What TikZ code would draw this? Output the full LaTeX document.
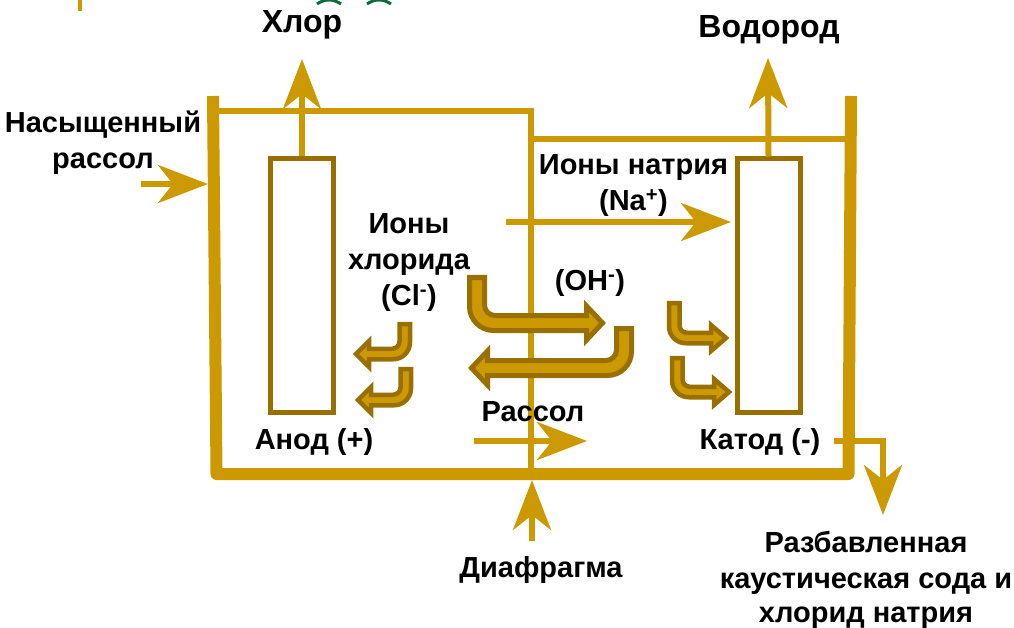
\documentclass[tikz,border=0pt]{standalone}
\usepackage{fontspec}
\setmainfont{Liberation Sans}
\usepackage{xcolor}
\usetikzlibrary{positioning, arrows.meta}
\definecolor{brinegold}{RGB}{204,153,0}
\definecolor{brinedark}{RGB}{153,112,0}
\definecolor{cutgreen}{RGB}{11,107,58}

\begin{document}
\begin{tikzpicture}[x=1pt, y=-1pt, every node/.style={inner sep=0pt},
  lbl/.style={font=\fontsize{29}{36}\selectfont\bfseries, align=center, text=black},
  gaslbl/.style={font=\fontsize{32}{38}\selectfont\bfseries, text=black},
  wall/.style={brinegold, line width=12pt, line join=round},
  lid/.style={brinegold, line width=6pt},
  electrode/.style={draw=brinedark, line width=5pt, minimum width=63pt, minimum height=253pt, fill=white},
  flow/.style={brinegold, line width=6pt, -{Stealth[length=50pt, width=38pt, inset=15pt]}},
  bigbent/.style={line width=5pt},
  smallbent/.style={line width=4.5pt},
  pics/bentarrow/.style n args={5}{code={
    \pgfmathsetmacro{\lowy}{#2+#3/2}
    \pgfmathsetmacro{\upy}{#2-#3/2}
    \pgfmathsetmacro{\headx}{#1-#5}
    \draw[draw=brinedark, fill=brinegold, line join=miter, miter limit=10]
      (0,0) [rounded corners=1.6*#3 pt] -- (0,\lowy) [sharp corners] -- (\headx,\lowy) -- (\headx,#2+#4)
      -- (#1,#2) -- (\headx,#2-#4) -- (\headx,\upy) [rounded corners=0.7*#3 pt] -- (#3,\upy) [sharp corners]
      -- (#3,0) -- cycle;
  }}]
\useasboundingbox (0,0) rectangle (1014,628);
% cut-off bits along the top edge
\draw[brinegold, line width=4pt] (80,0) -- (80,11);
\draw[cutgreen, line width=3pt] (317,4) to[bend left=35] (341,4);
\draw[cutgreen, line width=3pt] (367,4) to[bend left=35] (391,4);
% tank
\coordinate (lidleft) at (219,111);
\coordinate (lidmid) at (531,111);
\coordinate (lidmidlow) at (531,139);
\coordinate (lidright) at (847,139);
\coordinate (tankfoot) at (531,474);
\draw[lid] (lidleft) -- (lidmid) -- (tankfoot);
\draw[lid] (lidmidlow) -- (lidright);
\draw[wall] (213,96) -- (216.5,474) -- (848.5,474) -- (851,96);
% electrodes
\node[electrode] (anode) at (302,285.5) {};
\node[electrode] (cathode) at (768.5,285.5) {};
% gas and liquid flows
\coordinate (chlorinetip) at (302,59);
\coordinate (hydrogentip) at (768,58);
\coordinate (brinestart) at (141,184);
\coordinate (brinetip) at (208,184);
\coordinate (sodiumstart) at (506,222);
\coordinate (sodiumtip) at (731,222);
\coordinate (passstart) at (474,441);
\coordinate (passtip) at (587,441);
\coordinate (diastart) at (532,541);
\coordinate (diatip) at (532,480);
\coordinate (causticstart) at (834,441);
\coordinate (causticbend) at (883,441);
\coordinate (caustictip) at (883,515);
\draw[flow] (anode.north) -- (chlorinetip);
\draw[flow] (cathode.north) -- (hydrogentip);
\draw[flow] (brinestart) -- (brinetip);
\draw[flow] (sodiumstart) -- (sodiumtip);
\draw[flow] (passstart) -- (passtip);
\draw[flow] (diastart) -- (diatip);
\draw[flow, line join=miter] (causticstart) -- (causticbend) -- (caustictip);
% bent ion arrows
\pic[bigbent] (hydroxright) at (469.5,277.5) {bentarrow={133}{45.5}{15}{17}{16}};
\pic[bigbent, xscale=-1] (hydroxleft) at (631.5,328.5) {bentarrow={160}{39.5}{15}{17}{16}};
\pic[smallbent, xscale=-1] (chlorideone) at (410,324) {bentarrow={54}{30}{10.5}{13}{13}};
\pic[smallbent, xscale=-1] (chloridetwo) at (411,369) {bentarrow={53}{31}{10.5}{13}{13}};
\pic[smallbent] (sodiumone) at (669,303) {bentarrow={57}{35}{10.5}{13}{15}};
\pic[smallbent] (sodiumtwo) at (672,358) {bentarrow={57}{34}{10.5}{13}{15}};
% labels
\node[gaslbl] (chlorine) at (302,25) {Хлор};
\node[gaslbl] (hydrogen) at (769,30) {Водород};
\node[lbl] (satbrine) at (103,142.5) {Насыщенный\\рассол};
\node[lbl] (sodiumions) at (633.5,186) {Ионы натрия\\(Na\textsuperscript{+})};
\node[lbl] (chlorideions) at (409,263) {Ионы\\хлорида\\(Cl\textsuperscript{-})};
\node[lbl] (hydroxide) at (590,283) {(OH\textsuperscript{-})};
\node[lbl] (passbrine) at (533,412) {Рассол};
\node[lbl] (anodelbl) at (314,442) {Анод (+)};
\node[lbl] (cathodelbl) at (760,442) {Катод (-)};
\node[lbl] (diaphragm) at (541,570) {Диафрагма};
\node[lbl] (caustic) at (866,580) {Разбавленная\\каустическая сода и\\[-2pt]хлорид натрия};
\end{tikzpicture}
\end{document}
